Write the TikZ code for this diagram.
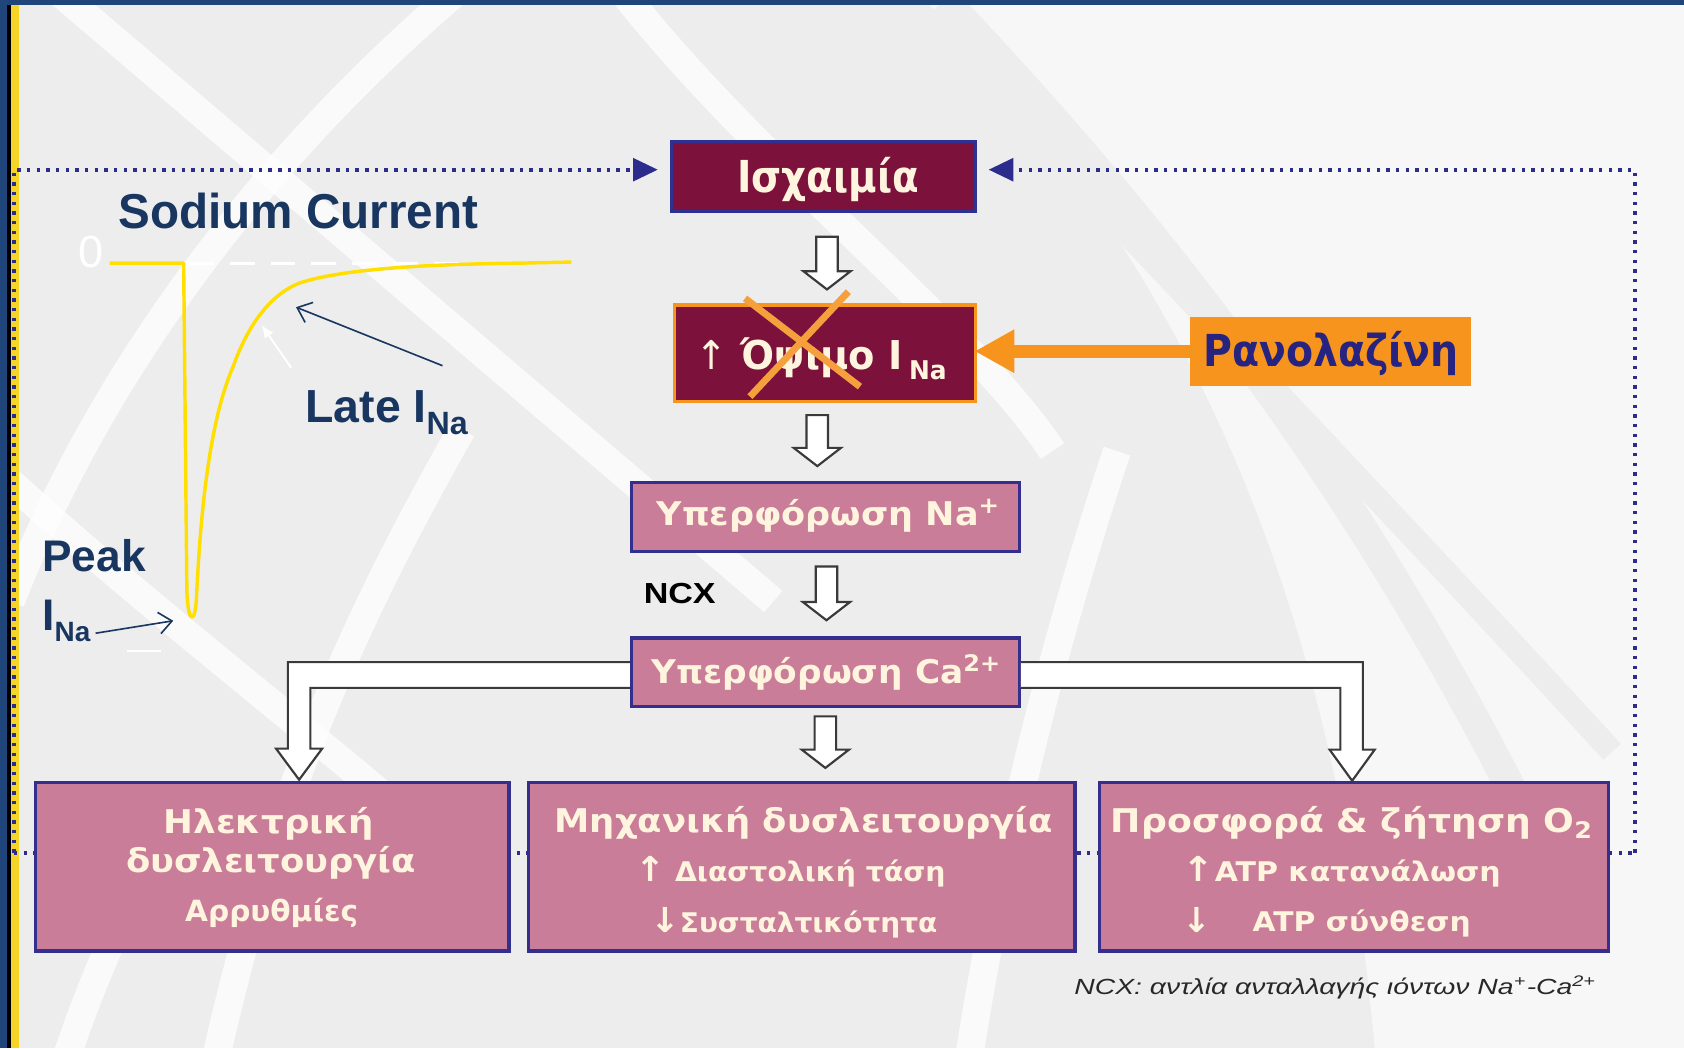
\documentclass[tikz,border=0pt]{standalone}
\usepackage{fontspec}
\setmainfont{Liberation Sans}
\newfontfamily\dvs{DejaVu Sans}
\usepackage{graphicx}
\usetikzlibrary{arrows.meta,calc}
\definecolor{bgc}{RGB}{237,237,237}
\definecolor{frameblue}{RGB}{31,69,122}
\definecolor{stripey}{RGB}{247,212,40}
\definecolor{maroon}{RGB}{124,18,60}
\definecolor{ischborder}{RGB}{46,49,146}
\definecolor{boxblue}{RGB}{52,46,140}
\definecolor{pinkbox}{RGB}{201,125,153}
\definecolor{cream}{RGB}{255,244,222}
\definecolor{orng}{RGB}{247,148,29}
\definecolor{crossorng}{RGB}{245,160,60}
\definecolor{ranblue}{RGB}{38,36,128}
\definecolor{navy}{RGB}{24,54,96}
\definecolor{curvey}{RGB}{255,222,0}
\definecolor{dotc}{RGB}{44,44,140}
\definecolor{arrgray}{RGB}{58,58,58}
\definecolor{footc}{RGB}{40,40,40}
\newcommand\fitw[2]{\resizebox{#1}{\height}{#2}}
\newcommand\fs[1]{\fontsize{#1}{#1}\selectfont}
\newcommand\hollowdown[2]{%
  \draw[hollow] let \p1=#1, \p2=#2 in
  (\x1-5pt,\y1) -- (\x1+5pt,\y1) -- (\x1+5pt,\y2+8.5pt) -- (\x1+11pt,\y2+8.5pt)
  -- (\x1,\y2) -- (\x1-11pt,\y2+8.5pt) -- (\x1-5pt,\y2+8.5pt) -- cycle;}
\pgfdeclarelayer{back}
\pgfdeclarelayer{mid}
\pgfsetlayers{back,mid,main}
\begin{document}
\begin{tikzpicture}[x=0.5pt,y=-0.5pt,
  hollow/.style={draw=arrgray,line width=1pt,fill=white,line join=miter},
  band/.style={white,line width=13pt,opacity=0.75},
  grayband/.style={black!7,line width=14pt},
  mbox/.style={line width=1.5pt,fill=maroon,inner sep=0pt},
  pbox/.style={draw=boxblue,line width=1.5pt,fill=pinkbox,inner sep=0pt},
  btxt/.style={text=cream,inner sep=0pt,anchor=base west},
  lbl/.style={text=navy,inner sep=0pt,anchor=base west},
  dots/.style={dotc,line width=1.8pt,dash pattern=on 1.6pt off 2.9pt},
  dotarrow/.style={-{Triangle[length=11.5pt,width=10.5pt]}},
  thinarr/.style={navy,line width=0.75pt,-{Straight Barb[length=6pt,width=10pt]}},
  crossln/.style={crossorng,line width=3.2pt}
]
\useasboundingbox (0,0) rectangle (1568,976);

% ---------- background ----------
\begin{pgfonlayer}{back}
\fill[bgc] (0,0) rectangle (1568,976);
\begin{scope}
\clip (0,0) rectangle (1568,976);
\fill[white,opacity=0.6] (860,0) .. controls (1080,220) and (1240,520) .. (1280,976) -- (1568,976) -- (1568,0) -- cycle;
\draw[grayband] (879,0) .. controls (1050,180) and (1250,420) .. (1420,760);
\draw[grayband,line width=11pt] (846,0) .. controls (1050,220) and (1300,480) .. (1501,700);
\draw[band] (40,-20) -- (720,560);
\draw[band] (440,-20) .. controls (260,130) and (100,330) .. (10,560);
\draw[band] (0,440) .. controls (120,550) and (250,650) .. (380,760);
\draw[band] (430,400) .. controls (340,560) and (260,720) .. (200,990);
\draw[band] (570,-20) .. controls (700,150) and (900,300) .. (980,420);
\draw[band] (900,1000) .. controls (930,800) and (980,600) .. (1040,420);
\draw[band] (60,990) .. controls (90,900) and (120,840) .. (150,780);
\end{scope}
% frame
\fill[frameblue] (0,0) rectangle (6.2,976);
\fill[black] (6.2,0) rectangle (10,976);
\fill[stripey] (10,4.7) rectangle (18,976);
\fill[frameblue] (0,0) rectangle (1568,5);
\end{pgfonlayer}

% ---------- boxes ----------
\node[mbox,draw=ischborder,minimum width=141.5pt,minimum height=32.5pt] (isch) at (766.5,164.5) {};
\node[mbox,draw=orng,minimum width=140pt,minimum height=45pt] (late) at (768,329) {};
\node[fill=orng,inner sep=0pt,minimum width=131pt,minimum height=32pt] (ran) at (1239,327) {};
\node[pbox,minimum width=180.5pt,minimum height=32pt] (na) at (768.5,481.5) {};
\node[pbox,minimum width=180.5pt,minimum height=32pt] (ca) at (768.5,626) {};
\node[pbox,minimum width=220.5pt,minimum height=78.5pt] (elec) at (253.5,807) {};
\node[pbox,minimum width=254.5pt,minimum height=78.5pt] (mech) at (746.5,807) {};
\node[pbox,minimum width=237pt,minimum height=78.5pt] (oxy) at (1261,807) {};

% ---------- dotted feedback loop ----------
\begin{pgfonlayer}{mid}
\coordinate (blc) at (13,794);
\coordinate (tlc) at (13,158);
\coordinate (brc) at (1522,794);
\coordinate (trc) at (1522,158);
\draw[dots] (blc) -- (brc);
\draw[dots,dotarrow,shorten >=5.5pt] (blc) -- (tlc) -- (isch.west |- tlc);
\draw[dots,dotarrow,shorten >=5.5pt] (brc) -- (trc) -- (isch.east |- trc);
\end{pgfonlayer}

% ---------- hollow block arrows ----------
\hollowdown{($(isch.south)+(3.5,22)$)}{($(late.north)+(2,-13)$)}
\hollowdown{($(late.south)+(-7,11)$)}{($(na.north)+(-7,-14)$)}
\hollowdown{($(na.south)+(1,12.5)$)}{($(ca.north)+(1,-15)$)}
\hollowdown{($(ca.south)+(0,7.5)$)}{($(mech.north)+(0,-12)$)}

\coordinate (ltip) at (278.5,726);
\coordinate (rtip) at (1259,727);
\draw[hollow] ($(ca.west)+(0,-9.5)$) -- (268,616.5) -- (268,697) -- (257,697) -- (ltip)
  -- (300,697) -- (289,697) -- (289,640.5) -- ($(ca.west)+(0,14.5)$);
\draw[hollow] ($(ca.east)+(0,-9.5)$) -- (1269,616.5) -- (1269,698) -- (1280,698) -- (rtip)
  -- (1238,698) -- (1248,698) -- (1248,640.5) -- ($(ca.east)+(0,14.5)$);

% ---------- box texts ----------
\node[btxt,font=\dvs\bfseries\fs{20.5}] (ischt) at (686,179) {\fitw{84.5pt}{Ισχαιμία}};
\node[btxt,font=\dvs\bfseries\fs{18.5}] (latet) at (647,344)
  {\fitw{117pt}{{\mdseries ↑} Όψιμο I\,\raisebox{-4.5pt}{\fs{12}Na}}};
\node[btxt,text=ranblue,font=\dvs\bfseries\fs{20.5}] (rant) at (1120,341) {\fitw{119pt}{Ρανολαζίνη}};
\node[btxt,font=\dvs\bfseries\fs{15.2}] (nat) at (611,489) {\fitw{160pt}{Υπερφόρωση Na\textsuperscript{+}}};
\node[btxt,font=\dvs\bfseries\fs{15.2}] (cat) at (606,636) {\fitw{163pt}{Υπερφόρωση Ca\textsuperscript{2+}}};

\node[btxt,font=\dvs\bfseries\fs{15.2}] (e1) at (152,776) {\fitw{98pt}{Ηλεκτρική}};
\node[btxt,font=\dvs\bfseries\fs{15.2}] (e2) at (117,812) {\fitw{135pt}{δυσλειτουργία}};
\node[btxt,font=\dvs\bfseries\fs{13.6}] (e3) at (172,858) {\fitw{80.5pt}{Αρρυθμίες}};

\node[btxt,font=\dvs\bfseries\fs{15.2}] (m1) at (516,775) {\fitw{232pt}{Μηχανική δυσλειτουργία}};
\node[btxt,font=\dvs\bfseries\fs{12.6}] (m2) at (591,821) {\fitw{144.5pt}{{\fs{16}↑} Διαστολική τάση}};
\node[btxt,font=\dvs\bfseries\fs{12.6}] (m3) at (605,868) {\fitw{133.7pt}{{\fs{16}↓}Συσταλτικότητα}};

\node[btxt,font=\dvs\bfseries\fs{15.2}] (o1) at (1034,775) {\fitw{224.5pt}{Προσφορά \& ζήτηση O\textsubscript{2}}};
\node[btxt,font=\dvs\bfseries\fs{12.6}] (o2) at (1101,821) {\fitw{148pt}{{\fs{16}↑}ATP κατανάλωση}};
\node[btxt,font=\dvs\bfseries\fs{16}] (o3a) at (1101,868) {↓};
\node[btxt,font=\dvs\bfseries\fs{12.6}] (o3b) at (1166,867) {\fitw{101.5pt}{ATP σύνθεση}};

% ---------- other labels ----------
\node[anchor=base west,inner sep=0pt,font=\bfseries\fs{13.5}] (ncx) at (599,562) {\fitw{33.5pt}{NCX}};
\node[anchor=base west,inner sep=0pt,text=footc,font=\itshape\fs{10.2}] (foot) at (1000,926)
  {\fitw{243pt}{NCX: αντλία ανταλλαγής ιόντων Na\textsuperscript{+}-Ca\textsuperscript{2+}}};

% ---------- ranolazine block ----------
\draw[crossln] (693.7,277.8) -- (800.7,360);
\draw[crossln] (789.9,271.6) -- (698.3,369.3);
\draw[orng,line width=6pt,-{Triangle[length=18.5pt,width=19pt]},shorten >=-1pt] (ran.west) -- (late.east |- ran.west);

% ---------- sodium current plot ----------
\draw[white,line width=1.5pt,dash pattern=on 11.5pt off 7.5pt] (176,245) -- (440,245);
\draw[curvey,line width=1.6pt,line join=round]
  (102,245) -- (171,245) -- (174,550)
  .. controls (175,582) and (182,582) .. (183,555)
  .. controls (187,470) and (196,390) .. (217,341.5)
  .. controls (230,305) and (250,275) .. (279,263.5)
  .. controls (320,250) and (400,246) .. (484,245) -- (532,244);
\node[lbl,font=\bfseries\fs{22.8}] (sodium) at (110,212.5) {\fitw{167.5pt}{Sodium Current}};
\node[anchor=base west,inner sep=0pt,text=white,font=\fs{21}] (zero) at (73,249) {0};
\node[lbl,font=\bfseries\fs{21.6}] (latelbl) at (284,393) {Late I\raisebox{-6pt}{\fs{15}Na}};
\node[lbl,font=\bfseries\fs{20.6}] (peak) at (39,532) {Peak};
\node[lbl,font=\bfseries\fs{20.6}] (peakI) at (39,586.6) {I\raisebox{-5.5pt}{\fs{13}Na}};

\coordinate (lateTail) at (412,340.5);
\coordinate (lateTip) at (275.6,286);
\draw[thinarr] (lateTail) -- (lateTip);
\coordinate (wTail) at (271,342.3);
\coordinate (wTip) at (243.6,302.6);
\draw[white,line width=0.9pt,-{Latex[length=6pt,width=5pt]}] (wTail) -- (wTip);
\coordinate (pkTail) at (89,589.6);
\coordinate (pkTip) at (161.3,578);
\draw[thinarr] (pkTail) -- (pkTip);
\draw[white,line width=1pt] (118,606) -- (150,606);
\end{tikzpicture}
\end{document}
